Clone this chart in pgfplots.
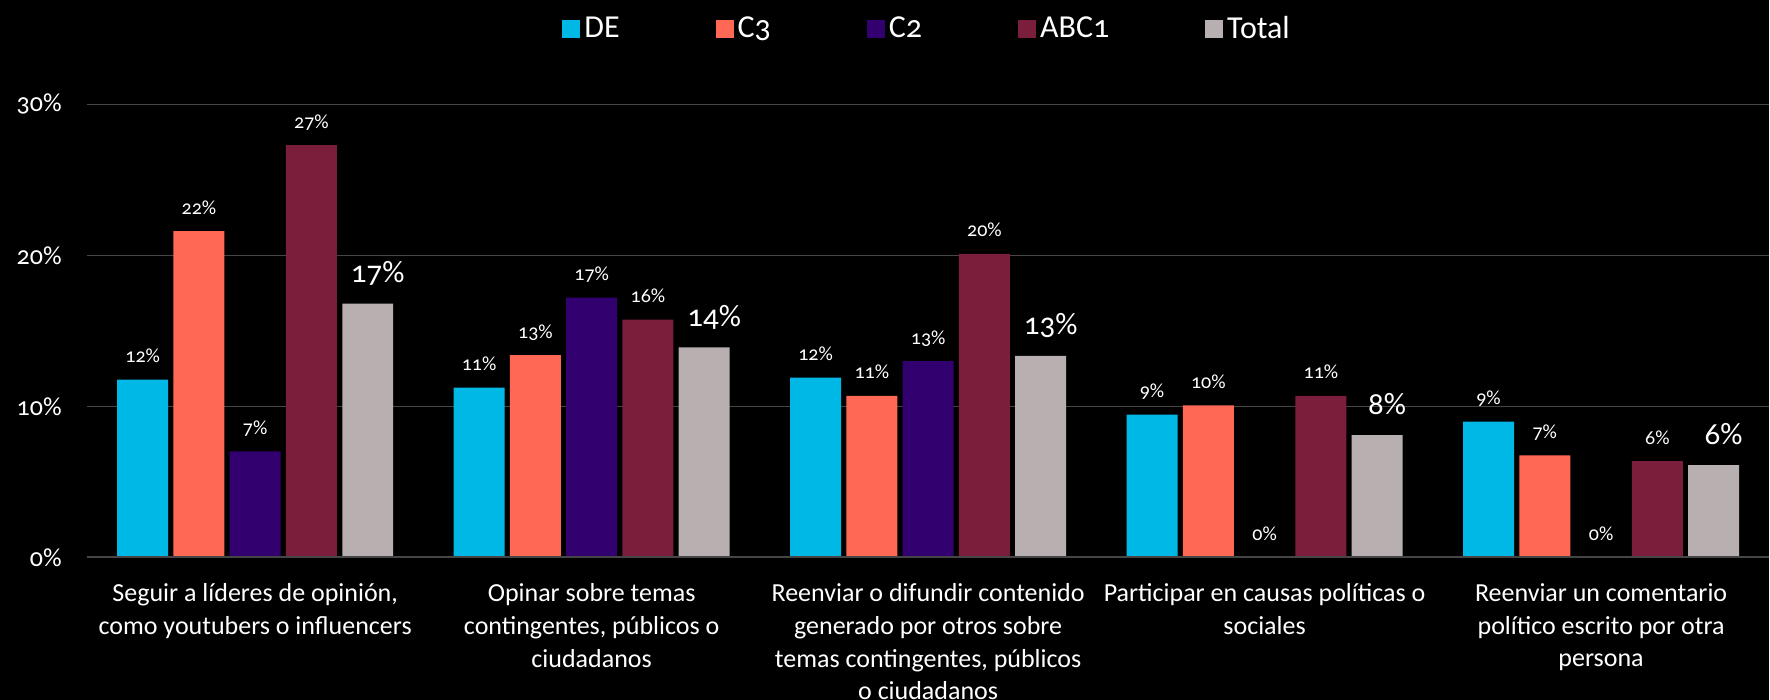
\documentclass[border=0pt]{standalone}
\usepackage{fontspec}
\setmainfont{Carlito}[Numbers=OldStyle]
\usepackage{pgfplots}
\pgfplotsset{compat=1.18}
\definecolor{cDE}{RGB}{0,184,230}
\definecolor{cCthree}{RGB}{255,104,84}
\definecolor{cCtwo}{RGB}{51,0,112}
\definecolor{cABC}{RGB}{122,30,60}
\definecolor{cTot}{RGB}{184,176,176}
\definecolor{cGrid}{RGB}{70,70,70}
\begin{document}
\begin{tikzpicture}
\fill[black] (-43.5pt,-71.15pt) rectangle (841.5pt,278.85pt);
\begin{axis}[
  at={(0,0)}, anchor=south west,
  scale only axis, width=841.5pt, height=226.7pt,
  xmin=-0.5, xmax=4.5, ymin=0, ymax=30,
  ybar=2.65pt, bar width=25.5pt,
  axis line style={draw=none},
  major tick length=0pt,
  ytick={0,10,20,30},
  yticklabel={\pgfmathprintnumber{\tick}\%},
  /pgf/number format/assume math mode=true,
  yticklabel style={font=\fontsize{13}{15}\selectfont, text=white, inner sep=0pt, xshift=-12.5pt},
  ymajorgrids, grid style={draw=cGrid, line width=0.7pt},
  xtick={0,1,2,3,4},
  xticklabels={{Seguir a líderes de opinión,\\como youtubers o influencers},
               {Opinar sobre temas\\contingentes, públicos o\\ciudadanos},
               {Reenviar o difundir contenido\\generado por otros sobre\\temas contingentes, públicos\\o ciudadanos},
               {Participar en causas políticas o\\sociales},
               {Reenviar un comentario\\político escrito por otra\\persona}},
  xticklabel style={font=\fontsize{13}{16.3}\selectfont, text=white, align=center, anchor=north, inner sep=0pt, yshift=-13pt},
  legend style={at={(0.5,1.167)}, anchor=center, draw=none, fill=none, text=white,
    font=\fontsize{16}{18}\selectfont, legend columns=5,
    /tikz/every even column/.append style={column sep=46pt}},
  legend image code/.code={\fill[#1] (0pt,-4.5pt) rectangle (9pt,4.5pt);},
  nodes near coords={\pgfmathprintnumber[fixed,precision=0]{\pgfplotspointmeta}\%},
  every node near coord/.append style={anchor=base, inner sep=0pt, yshift=8.5pt, text=white, font=\fontsize{10}{12}\selectfont},
]
\addplot[fill=cDE, draw=none] coordinates {(0,11.77) (1,11.25) (2,11.9) (3,9.45) (4,9.0)};
\addplot[fill=cCthree, draw=none] coordinates {(0,21.6) (1,13.4) (2,10.7) (3,10.07) (4,6.75)};
\addplot[fill=cCtwo, draw=none] coordinates {(0,7.02) (1,17.2) (2,13.0) (3,0) (4,0)};
\addplot[fill=cABC, draw=none] coordinates {(0,27.3) (1,15.75) (2,20.1) (3,10.7) (4,6.38)};
\addplot[fill=cTot, draw=none, every node near coord/.append style={font=\fontsize{15.5}{17}\selectfont, yshift=2pt, xshift=5pt}] coordinates {(0,16.8) (1,13.9) (2,13.35) (3,8.1) (4,6.12)};
\legend{DE,C3,C2,ABC1,Total}
\draw[cGrid, line width=1.5pt] (axis cs:-0.5,0) -- (axis cs:4.5,0);
\end{axis}
\end{tikzpicture}
\end{document}
